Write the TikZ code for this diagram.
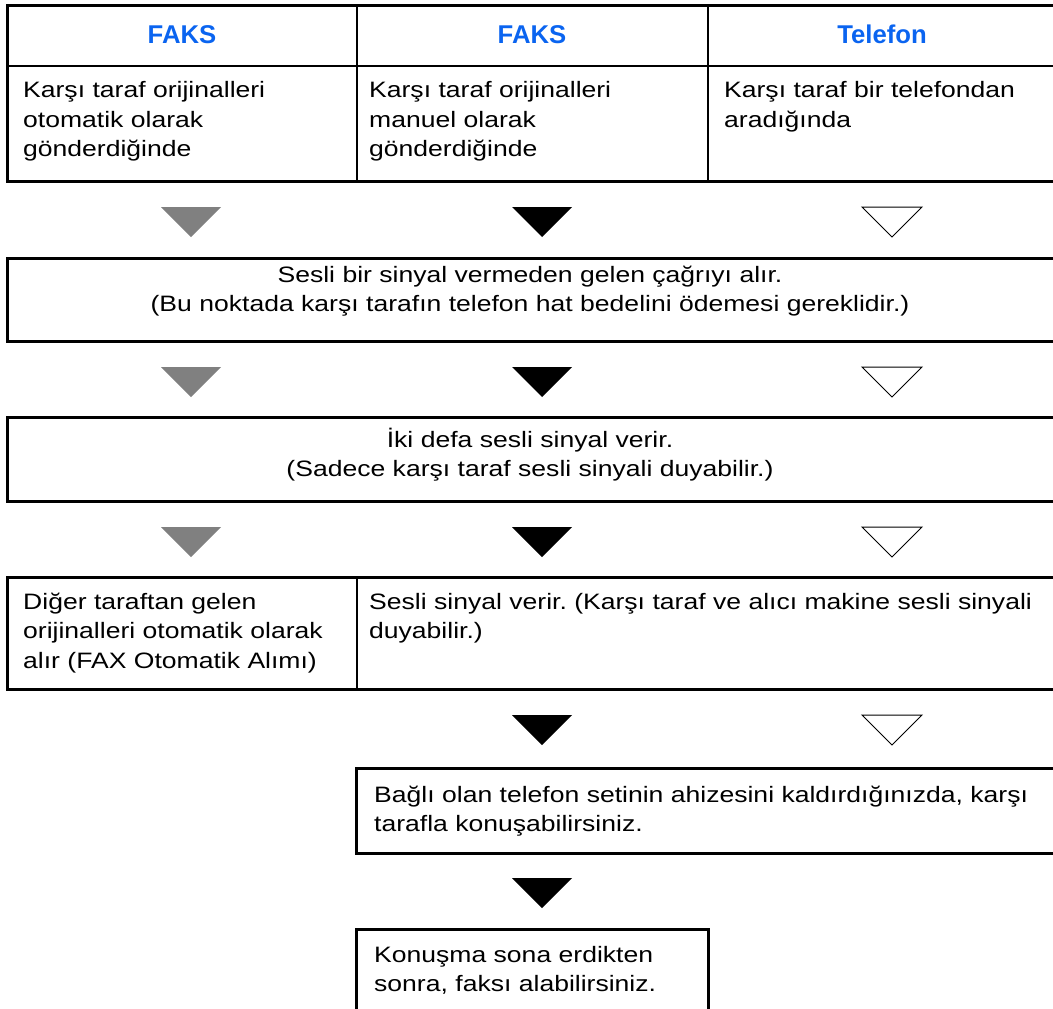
\documentclass[tikz,border=0pt]{standalone}
\usepackage{fontspec}
\newfontfamily\bodyfont{Liberation Sans}[FakeStretch=1.19]
\newfontfamily\headfont{Liberation Sans}
\definecolor{headblue}{RGB}{10,100,240}
\definecolor{trigray}{RGB}{128,128,128}
\frenchspacing
\begin{document}
\begin{tikzpicture}[x=1pt,y=-1pt,
  frame/.style={line width=3pt},
  thinrule/.style={line width=2pt},
  divider/.style={line width=2.5pt},
  headtxt/.style={inner sep=0pt, anchor=base, text=headblue, font=\headfont\bfseries\fontsize{25.7}{30}\selectfont},
  bodytxt/.style={inner sep=0pt, anchor=base west, align=left, text width=#1, font=\bodyfont\fontsize{22.3}{29.5}\selectfont},
  bodytxt/.default=330pt,
  centertxt/.style={inner sep=0pt, anchor=base, align=center, text width=1000pt, font=\bodyfont\fontsize{22.3}{29.5}\selectfont},
  tri/.pic={\path[pic actions] (-30,0) -- (30,0) -- (0,30) -- cycle;},
  gtri/.style={fill=trigray},
  btri/.style={fill=black},
  wtri/.style={draw=black, line width=1pt, fill=white, line join=miter}
]
\useasboundingbox (0,0) rectangle (1053,1009);
\clip (0,0) rectangle (1053,1009);

% ---------- top table ----------
\draw[frame] (7,5) rectangle (1062,181);
\draw[thinrule] (7,66) -- (1062,66);
\draw[divider] (357,5) -- (357,181);
\draw[divider] (708,5) -- (708,181);

\node[headtxt] (h1) at (182,43.3) {FAKS};
\node[headtxt] (h2) at (532,43.3) {FAKS};
\node[headtxt] (h3) at (882,43.3) {Telefon};

\node[bodytxt] (c1) at (23,97.5) {Karşı taraf orijinalleri\\otomatik olarak\\gönderdiğinde};
\node[bodytxt] (c2) at (369,97.5) {Karşı taraf orijinalleri\\manuel olarak\\gönderdiğinde};
\node[bodytxt] (c3) at (724,97.5) {Karşı taraf bir telefondan\\aradığında};

% ---------- row 1 triangles ----------
\pic[gtri] at (191,207) {tri};
\pic[btri] at (542,207) {tri};
\pic[wtri] at (892,207) {tri};

% ---------- box 2 ----------
\draw[frame] (7,258) rectangle (1062,341);
\node[centertxt] (b2) at (530,282) {Sesli bir sinyal vermeden gelen çağrıyı alır.\\(Bu noktada karşı tarafın telefon hat bedelini ödemesi gereklidir.)};

% ---------- row 2 triangles ----------
\pic[gtri] at (191,367) {tri};
\pic[btri] at (542,367) {tri};
\pic[wtri] at (892,367) {tri};

% ---------- box 3 ----------
\draw[frame] (7,417) rectangle (1062,501);
\node[centertxt] (b3) at (530,447) {İki defa sesli sinyal verir.\\(Sadece karşı taraf sesli sinyali duyabilir.)};

% ---------- row 3 triangles ----------
\pic[gtri] at (191,527) {tri};
\pic[btri] at (542,527) {tri};
\pic[wtri] at (892,527) {tri};

% ---------- box 4 ----------
\draw[frame] (7,577) rectangle (1062,689);
\draw[divider] (357,577) -- (357,689);
\node[bodytxt] (b4a) at (23,609) {Diğer taraftan gelen\\orijinalleri otomatik olarak\\alır (FAX Otomatik Alımı)};
\node[bodytxt=690pt] (b4b) at (369,609) {Sesli sinyal verir. (Karşı taraf ve alıcı makine sesli sinyali\\duyabilir.)};

% ---------- row 4 triangles ----------
\pic[btri] at (542,715) {tri};
\pic[wtri] at (892,715) {tri};

% ---------- box 5 ----------
\draw[frame] (356,768) rectangle (1062,853);
\node[bodytxt=690pt] (b5) at (374,802) {Bağlı olan telefon setinin ahizesini kaldırdığınızda, karşı\\tarafla konuşabilirsiniz.};

% ---------- row 5 triangle ----------
\pic[btri] at (542,878) {tri};

% ---------- box 6 ----------
\draw[frame] (356,929) rectangle (708,1030);
\node[bodytxt] (b6) at (374,962) {Konuşma sona erdikten\\sonra, faksı alabilirsiniz.};
\end{tikzpicture}
\end{document}
